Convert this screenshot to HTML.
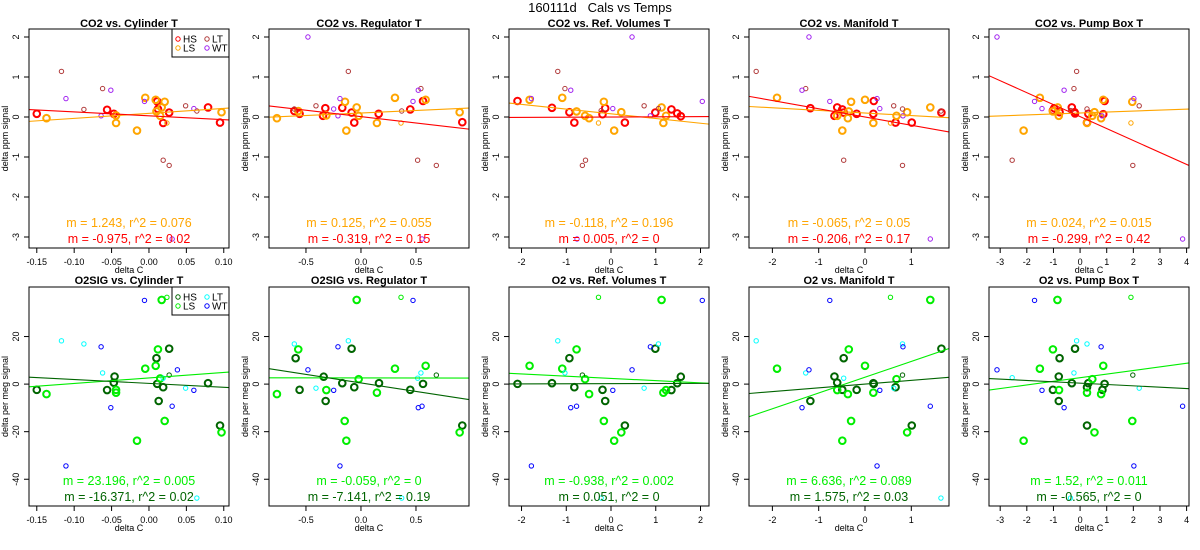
<!DOCTYPE html>
<html><head><meta charset="utf-8"><style>
html,body{margin:0;padding:0;background:#fff;}
svg{display:block;font-family:"Liberation Sans",Arial,sans-serif;}
</style></head><body>
<svg id="chart" width="1200" height="550" viewBox="0 0 1200 550" xmlns="http://www.w3.org/2000/svg">
<text x="600" y="12" text-anchor="middle" font-size="13">160111d&#160;&#160;&#160;Cals vs Temps</text>
</svg>
<script>
// ---------- data (delta C, delta signal) ----------
// Column 1: Cylinder T
const co2Cyl_HS=[[-0.150,0.08],[-0.056,0.18],[-0.047,0.08],[0.011,0.39],[0.012,0.20],[0.019,-0.15],[0.027,0.11],[0.079,0.24],[0.095,-0.14]];
const co2Cyl_LS=[[-0.137,-0.03],[-0.044,0.04],[-0.044,-0.15],[-0.016,-0.34],[-0.005,0.48],[0.009,0.43],[0.010,0.14],[0.017,0.24],[0.021,0.38],[0.015,0.03],[0.097,0.12]];
const co2Cyl_LT=[[-0.117,1.14],[-0.087,0.19],[-0.062,0.71],[0.019,-1.08],[0.027,-1.21],[0.049,0.28],[0.064,0.15]];
const co2Cyl_WT=[[-0.111,0.46],[-0.064,0.03],[-0.051,0.67],[-0.006,0.39],[0.060,0.21],[0.031,-3.05]];
const co2Cyl_small=[[0.024,-0.15]];
const o2Cyl_HS=[[-0.150,-2.4],[-0.056,-2.5],[-0.046,3.2],[-0.047,0.6],[0.010,10.9],[0.011,0.1],[0.013,-7.1],[0.019,-1.3],[0.027,14.9],[0.079,0.4],[0.095,-17.4]];
const o2Cyl_LS=[[-0.137,-4.2],[-0.044,-2.4],[-0.044,-3.6],[-0.016,-23.8],[-0.005,6.5],[0.009,7.7],[0.012,14.6],[0.015,2.4],[0.017,35.4],[0.021,-15.5],[0.097,-20.3]];
const o2Cyl_LT=[[-0.117,18.2],[-0.087,16.9],[-0.062,4.7],[0.019,2.5],[0.049,-1.7],[0.064,-47.9]];
const o2Cyl_WT=[[-0.111,-34.4],[-0.064,15.7],[-0.051,-9.9],[-0.006,35.2],[0.031,-9.3],[0.038,6.0],[0.060,-2.6]];
const o2Cyl_small=[[0.024,36.5]];
const o2Cyl_smallHS=[[0.027,3.8]];
// Column 2: Regulator T
const co2Reg_HS=[[-0.606,0.15],[-0.558,0.08],[-0.345,0.03],[-0.324,0.22],[-0.170,0.23],[-0.085,0.11],[-0.061,-0.14],[0.161,0.08],[0.448,0.19],[0.564,0.40],[0.921,-0.13]];
const co2Reg_LS=[[-0.764,-0.03],[-0.570,0.15],[-0.315,0.04],[-0.145,0.38],[-0.133,-0.34],[-0.039,0.24],[-0.021,0.03],[0.145,-0.15],[0.309,0.48],[0.588,0.43],[0.897,0.12]];
const co2Reg_LT=[[-0.606,0.20],[-0.409,0.28],[-0.115,1.14],[0.370,0.15],[0.515,-1.08],[0.685,-1.21],[0.545,0.71]];
const co2Reg_WT=[[-0.482,2.0],[-0.248,0.20],[-0.209,0.03],[-0.191,0.46],[0.473,0.39],[0.521,0.67],[0.555,-3.05]];
const co2Reg_small=[[0.364,-0.15]];
const o2Reg_HS=[[-0.594,10.9],[-0.558,-2.4],[-0.339,3.1],[-0.321,-7.1],[-0.170,0.4],[-0.085,14.9],[-0.061,-1.3],[0.164,0.4],[0.448,-2.4],[0.564,0.1],[0.921,-17.4]];
const o2Reg_LS=[[-0.764,-4.2],[-0.570,14.6],[-0.315,-2.5],[-0.148,-15.5],[-0.133,-23.8],[-0.039,35.4],[-0.021,2.1],[0.145,-3.6],[0.309,6.5],[0.588,7.7],[0.897,-20.3]];
const o2Reg_LT=[[-0.606,16.9],[-0.409,-1.7],[-0.115,18.2],[0.515,2.5],[0.545,4.7],[0.370,-47.9]];
const o2Reg_WT=[[-0.482,6.0],[-0.248,-2.6],[-0.209,15.7],[-0.191,-34.4],[0.473,35.2],[0.521,-9.9],[0.555,-9.3]];
const o2Reg_small=[[0.364,36.5]];
const o2Reg_smallHS=[[0.685,3.8]];
// Column 3: Ref. Volumes T
const co2Ref_HS=[[-2.09,0.40],[-1.32,0.23],[-0.93,0.12],[-0.82,-0.14],[-0.19,0.07],[-0.13,0.22],[0.31,-0.14],[0.99,0.11],[1.35,0.19],[1.48,0.09],[1.56,0.02]];
const co2Ref_LS=[[-1.82,0.43],[-1.09,0.48],[-0.77,0.14],[-0.58,0.03],[-0.49,-0.03],[-0.16,0.38],[0.07,-0.34],[0.23,0.12],[1.13,0.24],[1.17,-0.15],[1.23,0.03]];
const co2Ref_LT=[[-1.19,1.14],[-1.03,0.71],[-0.64,-1.21],[-0.57,-1.08],[-0.22,0.16],[0.74,0.28],[1.06,0.21]];
const co2Ref_WT=[[-1.78,0.46],[-0.90,0.67],[0.04,0.21],[0.47,2.0],[0.88,0.03],[2.04,0.39],[-0.76,-3.05]];
const co2Ref_small=[[-0.28,-0.15]];
const o2Ref_HS=[[-2.09,0.1],[-1.32,0.4],[-0.93,10.9],[-0.82,-1.3],[-0.19,-2.4],[-0.13,-7.1],[0.31,-17.4],[0.99,14.9],[1.35,-2.5],[1.48,0.4],[1.56,3.1]];
const o2Ref_LS=[[-1.82,7.7],[-1.09,6.5],[-0.77,14.6],[-0.58,2.1],[-0.49,-4.2],[-0.16,-15.5],[0.07,-23.8],[0.23,-20.3],[1.13,35.4],[1.17,-3.6],[1.23,-2.5]];
const o2Ref_LT=[[-1.19,18.2],[-1.03,4.7],[0.74,-1.7],[1.06,16.9],[-0.22,-47.9]];
const o2Ref_WT=[[-1.78,-34.4],[-0.90,-9.9],[-0.77,-9.3],[0.04,-2.6],[0.47,6.0],[0.88,15.7],[2.04,35.2]];
const o2Ref_small=[[-0.28,36.5]];
const o2Ref_smallHS=[[-0.64,3.8]];
// Column 4: Manifold T
const co2Man_HS=[[-1.18,0.22],[-0.66,0.03],[-0.60,0.24],[-0.49,0.19],[-0.46,0.11],[-0.18,0.08],[0.19,0.40],[0.18,0.08],[0.66,-0.14],[1.01,-0.14],[1.65,0.11]];
const co2Man_LS=[[-1.90,0.48],[-0.60,0.03],[-0.49,-0.34],[-0.37,-0.03],[-0.35,0.14],[-0.30,0.38],[0.00,0.43],[0.18,-0.15],[0.68,0.03],[0.91,0.12],[1.41,0.24]];
const co2Man_LT=[[-2.35,1.14],[-1.28,0.71],[-0.46,-1.08],[0.62,0.28],[0.81,0.20],[0.81,-1.21],[1.64,0.15]];
const co2Man_WT=[[-1.21,2.0],[-1.36,0.67],[-0.76,0.39],[0.26,0.46],[0.32,0.21],[0.82,0.03],[1.41,-3.05]];
const co2Man_small=[[0.55,-0.15]];
const o2Man_HS=[[-1.18,-7.1],[-0.66,3.2],[-0.60,0.6],[-0.49,-2.4],[-0.46,10.9],[-0.18,-2.4],[0.18,0.4],[0.19,0.1],[0.66,-1.3],[1.01,-17.4],[1.65,14.9]];
const o2Man_LS=[[-1.90,6.5],[-0.60,-2.5],[-0.49,-23.8],[-0.37,-4.2],[-0.35,14.6],[-0.30,-15.5],[0.00,7.7],[0.18,-3.6],[0.68,2.1],[0.91,-20.3],[1.41,35.4]];
const o2Man_LT=[[-2.35,18.2],[-1.28,4.7],[-0.46,2.5],[0.62,-1.7],[0.81,16.9],[1.64,-47.9]];
const o2Man_WT=[[-1.21,6.0],[-1.36,-9.9],[-0.76,35.2],[0.26,-34.4],[0.32,-2.6],[0.82,15.7],[1.41,-9.3]];
const o2Man_small=[[0.55,36.5]];
const o2Man_smallHS=[[0.81,3.8]];
// Column 5: Pump Box T
const co2Pump_HS=[[-1.02,0.16],[-0.97,0.22],[-0.77,0.12],[-0.31,0.24],[-0.21,0.12],[-0.19,0.09],[0.31,0.08],[0.26,-0.14],[0.87,0.07],[0.92,0.40]];
const co2Pump_LS=[[-2.12,-0.34],[-1.51,0.48],[-1.02,0.14],[-0.84,0.24],[-0.80,0.03],[0.26,-0.15],[0.46,0.03],[0.54,0.12],[0.79,-0.03],[0.87,0.43],[1.96,0.38]];
const co2Pump_LT=[[-2.55,-1.08],[-0.23,0.71],[-0.13,1.14],[-0.36,0.16],[0.26,0.20],[1.98,-1.21],[2.22,0.28]];
const co2Pump_WT=[[-3.12,2.0],[-1.71,0.39],[-1.43,0.21],[-0.60,0.67],[0.82,0.03],[2.02,0.46],[3.85,-3.05]];
const co2Pump_small=[[1.91,-0.15]];
const o2Pump_HS=[[-1.02,-2.4],[-0.80,3.2],[-0.77,10.9],[-0.80,-7.1],[-0.31,0.4],[-0.19,14.9],[0.31,0.4],[0.26,-1.3],[0.26,-17.4],[0.84,-2.4],[0.92,0.1]];
const o2Pump_LS=[[-2.12,-23.8],[-1.51,6.5],[-1.02,14.6],[-0.85,35.4],[-0.79,-2.5],[0.26,-3.6],[0.46,2.1],[0.54,-20.3],[0.79,-4.2],[0.87,7.7],[1.96,-15.5]];
const o2Pump_LT=[[-2.55,2.7],[-0.23,4.7],[-0.13,18.2],[0.26,16.9],[2.22,-1.7],[-0.36,-47.9]];
const o2Pump_WT=[[-3.12,6.0],[-1.71,35.2],[-1.43,-2.6],[-0.60,-9.9],[0.79,15.7],[2.02,-34.4],[3.85,-9.3]];
const o2Pump_small=[[1.91,36.5]];
const o2Pump_smallHS=[[1.98,3.8]];
// fit lines: [intercept, slope]
const fitsTopLS=[[0.09,1.243],[0.10,0.125],[0.08,-0.118],[0.10,-0.065],[0.10,0.024]];
const fitsTopHS=[[0.03,-0.975],[0.01,-0.319],[0.00,0.005],[0.0,-0.206],[0.01,-0.299]];
const fitsBotLS=[[2.6,23.196],[2.6,-0.059],[2.4,-0.938],[2.9,6.636],[2.7,1.52]];
const fitsBotHS=[[0.3,-16.371],[0.5,-7.141],[0.2,0.051],[0.0,1.575],[0.4,-0.565]];
// stats labels
const statsTopLS=["m = 1.243, r^2 = 0.076","m = 0.125, r^2 = 0.055","m = -0.118, r^2 = 0.196","m = -0.065, r^2 = 0.05","m = 0.024, r^2 = 0.015"];
const statsTopHS=["m = -0.975, r^2 = 0.02","m = -0.319, r^2 = 0.15","m = 0.005, r^2 = 0","m = -0.206, r^2 = 0.17","m = -0.299, r^2 = 0.42"];
const statsBotLS=["m = 23.196, r^2 = 0.005","m = -0.059, r^2 = 0","m = -0.938, r^2 = 0.002","m = 6.636, r^2 = 0.089","m = 1.52, r^2 = 0.011"];
const statsBotHS=["m = -16.371, r^2 = 0.02","m = -7.141, r^2 = 0.19","m = 0.051, r^2 = 0","m = 1.575, r^2 = 0.03","m = -0.565, r^2 = 0"];
const titlesTop=["CO2 vs. Cylinder T","CO2 vs. Regulator T","CO2 vs. Ref. Volumes T","CO2 vs. Manifold T","CO2 vs. Pump Box T"];
const titlesBot=["O2SIG vs. Cylinder T","O2SIG vs. Regulator T","O2 vs. Ref. Volumes T","O2 vs. Manifold T","O2 vs. Pump Box T"];
const xTicks=[[-0.15,-0.10,-0.05,0.00,0.05,0.10],[-0.5,0.0,0.5],[-2,-1,0,1,2],[-2,-1,0,1],[-3,-2,-1,0,1,2,3,4]];
const xTickLabels=[["-0.15","-0.10","-0.05","0.00","0.05","0.10"],["-0.5","0.0","0.5"],["-2","-1","0","1","2"],["-2","-1","0","1"],["-3","-2","-1","0","1","2","3","4"]];
const yTicksTop=[-3,-2,-1,0,1,2];
const yTicksBot=[-40,-20,0,20];
const legendLabels=["HS","LT","LS","WT"];

// ---------- layout (not data) ----------
const xDomains=[[-0.1604,0.107],[-0.836,0.982],[-2.28,2.19],[-2.505,1.814],[-3.42,4.09]];
const topDom=[2.2,-3.275], botDom=[40.83,-51.25];
const svg=document.getElementById('chart');
const NS='http://www.w3.org/2000/svg';
function mk(tag,attrs,parent){const e=document.createElementNS(NS,tag);for(const k in attrs)e.setAttribute(k,attrs[k]);(parent||svg).appendChild(e);return e;}

const topSets=[[co2Cyl_HS,co2Cyl_LS,co2Cyl_LT,co2Cyl_WT,co2Cyl_small,[]],[co2Reg_HS,co2Reg_LS,co2Reg_LT,co2Reg_WT,co2Reg_small,[]],[co2Ref_HS,co2Ref_LS,co2Ref_LT,co2Ref_WT,co2Ref_small,[]],[co2Man_HS,co2Man_LS,co2Man_LT,co2Man_WT,co2Man_small,[]],[co2Pump_HS,co2Pump_LS,co2Pump_LT,co2Pump_WT,co2Pump_small,[]]];
const botSets=[[o2Cyl_HS,o2Cyl_LS,o2Cyl_LT,o2Cyl_WT,o2Cyl_small,o2Cyl_smallHS],[o2Reg_HS,o2Reg_LS,o2Reg_LT,o2Reg_WT,o2Reg_small,o2Reg_smallHS],[o2Ref_HS,o2Ref_LS,o2Ref_LT,o2Ref_WT,o2Ref_small,o2Ref_smallHS],[o2Man_HS,o2Man_LS,o2Man_LT,o2Man_WT,o2Man_small,o2Man_smallHS],[o2Pump_HS,o2Pump_LS,o2Pump_LT,o2Pump_WT,o2Pump_small,o2Pump_smallHS]];
const topColors={HS:'#ff0000',LS:'#ffa500',LT:'#b03a3a',WT:'#a020f0'};
const botColors={HS:'#006400',LS:'#00ee00',LT:'#00ffff',WT:'#0000ff'};

function drawPanel(col,row){
  const L=29+240*col, R=L+200;
  const T=row===0?29:287, B=row===0?248:506;
  const dom=row===0?topDom:botDom;
  const xd=xDomains[col];
  const sx=v=>L+(v-xd[0])/(xd[1]-xd[0])*(R-L);
  const sy=v=>T+(v-dom[0])/(dom[1]-dom[0])*(B-T);
  const colors=row===0?topColors:botColors;
  const sets=row===0?topSets[col]:botSets[col];
  const g=mk('g',{});
  
  
  const clipId='clip'+row+col;
  const cp=mk('clipPath',{id:clipId},g);mk('rect',{x:L,y:T,width:R-L,height:B-T},cp);
  const t=mk('text',{x:(L+R)/2,y:row===0?27:284,'text-anchor':'middle','font-size':'11','font-weight':'bold'},g);
  t.textContent=row===0?titlesTop[col]:titlesBot[col];
  
  
  const xa=mk('g',{},g);
  
  
  const xt=xTicks[col];
  mk('line',{x1:sx(xt[0]),x2:sx(xt[xt.length-1]),y1:B,y2:B,stroke:'#000','stroke-width':1},xa);
  xt.forEach((v,i)=>{
    mk('line',{x1:sx(v),x2:sx(v),y1:B,y2:B+5,stroke:'#000'},xa);
    const tl=mk('text',{x:sx(v),y:B+17,'text-anchor':'middle','font-size':'9'},xa);
    tl.textContent=xTickLabels[col][i];
    
    
  });
  const xl=mk('text',{x:(L+R)/2,y:B+25,'text-anchor':'middle','font-size':'9'},g);
  xl.textContent='delta C';
  
  
  const ya=mk('g',{},g);
  
  
  const yt=row===0?yTicksTop:yTicksBot;
  mk('line',{x1:L,x2:L,y1:sy(yt[0]),y2:sy(yt[yt.length-1]),stroke:'#000'},ya);
  yt.forEach(v=>{
    mk('line',{x1:L-5,x2:L,y1:sy(v),y2:sy(v),stroke:'#000'},ya);
    const tl=mk('text',{x:L-10,y:sy(v),'text-anchor':'middle','font-size':'9',transform:`rotate(-90 ${L-10} ${sy(v)})`},ya);
    tl.textContent=String(v);
    
    
  });
  const yl=mk('text',{x:L-21,y:(T+B)/2,'text-anchor':'middle','font-size':'9',transform:`rotate(-90 ${L-21} ${(T+B)/2})`},g);
  yl.textContent=row===0?'delta ppm signal':'delta per meg signal';
  
  
  const pg=mk('g',{'clip-path':`url(#${clipId})`},g);
  const cats=['HS','LS','LT','WT'];
  const spec=[[colors.HS,3.3,2],[colors.LS,3.3,2],[colors.LT,2.2,1],[colors.WT,2.2,1],[colors.LS,2.2,1],[colors.HS,2.2,1]];
  sets.forEach((pts,si)=>{
    pts.forEach(p=>{
      const c=mk('circle',{cx:sx(p[0]),cy:sy(p[1]),r:spec[si][1],fill:'none',stroke:spec[si][0],'stroke-width':spec[si][2]},pg);
      
      
    });
  });
  const fits=row===0?[fitsTopLS[col],fitsTopHS[col]]:[fitsBotLS[col],fitsBotHS[col]];
  const fcol=[colors.LS,colors.HS];
  fits.forEach((f,i)=>{
    const ln=mk('line',{x1:sx(xd[0]),y1:sy(f[0]+f[1]*xd[0]),x2:sx(xd[1]),y2:sy(f[0]+f[1]*xd[1]),stroke:fcol[i],'stroke-width':1.1},pg);
    
    
  });
  const s1=mk('text',{x:(L+R)/2,y:B-21,'text-anchor':'middle','font-size':'12.5',fill:colors.LS},g);
  s1.textContent=row===0?statsTopLS[col]:statsBotLS[col];
  
  
  const s2=mk('text',{x:(L+R)/2,y:B-5,'text-anchor':'middle','font-size':'12.5',fill:colors.HS},g);
  s2.textContent=row===0?statsTopHS[col]:statsBotHS[col];
  
  
  mk('rect',{x:L,y:T,width:R-L,height:B-T,fill:'none',stroke:'#000','stroke-width':1},g);
  if(col===0){
    const lg=mk('g',{},g);
    
    
    mk('rect',{x:172,y:T,width:57,height:28,fill:'#fff',stroke:'#000'},lg);
    const lc=[colors.HS,colors.LT,colors.LS,colors.WT];
    legendLabels.forEach((lab,i)=>{
      const ex=178+(i%2)*29, ey=T+10+Math.floor(i/2)*9;
      const e=mk('g',{},lg);
      
      
      mk('circle',{cx:ex,cy:ey,r:2.2,fill:'none',stroke:lc[i]},e);
      const tx=mk('text',{x:ex+5,y:ey+3.5,'font-size':'10'},e);
      tx.textContent=lab;
    });
  }
}
for(let r=0;r<2;r++)for(let c=0;c<5;c++)drawPanel(c,r);
</script>
</body></html>
